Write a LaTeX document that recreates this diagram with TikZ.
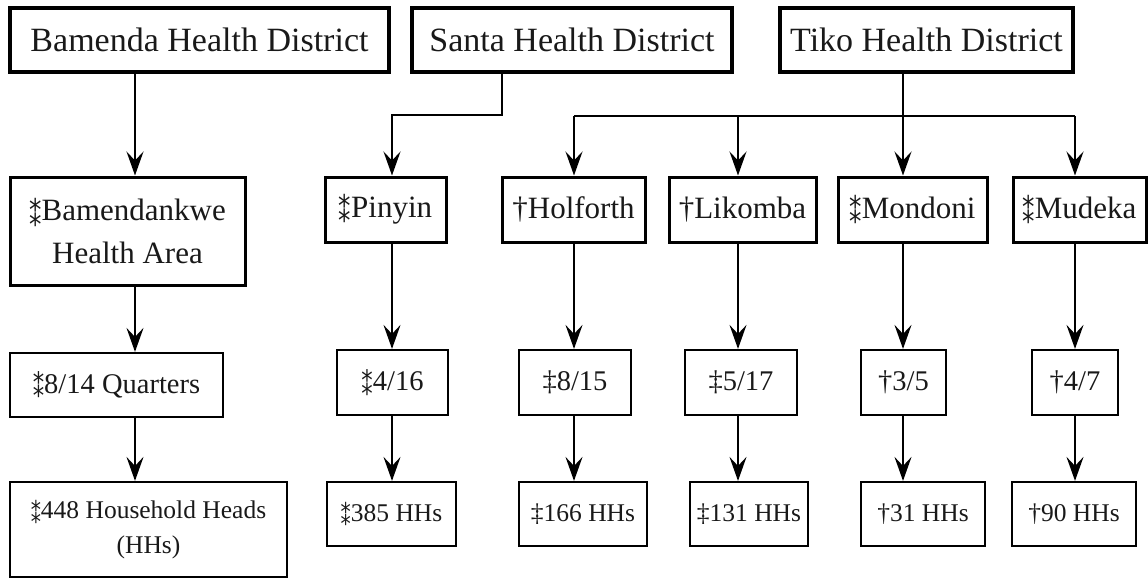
\documentclass[tikz,border=0pt]{standalone}
\usepackage{fontspec}
\setmainfont{Liberation Serif}
\newfontfamily\dvsans{DejaVu Sans}
\usetikzlibrary{arrows.meta}
\newcommand{\dast}{{\dvsans\raisebox{-0.17em}{\scalebox{0.8}[0.98]{⁑}}}}
\tikzset{
  box/.style={draw=black, rectangle, inner sep=0pt, align=center, text=black!90},
  topbox/.style={box, line width=3.4pt, font=\fontsize{34}{44}\selectfont},
  midbox/.style={box, line width=3pt, font=\fontsize{31}{43}\selectfont},
  lowbox/.style={box, line width=2.2pt, font=\fontsize{28.5}{38}\selectfont},
  botbox/.style={box, line width=2.2pt, font=\fontsize{25.5}{35}\selectfont},
  conn/.style={line width=1.8pt, draw=black},
  arr/.style={conn, -{Stealth[length=24pt,width=17pt,inset=9pt]}}
}
\begin{document}
\begin{tikzpicture}[x=1pt,y=-1pt]
\useasboundingbox (0,0) rectangle (1148,579);
% top row
\node[topbox, minimum width=379pt, minimum height=64pt] (bam) at (199.5,40) {Bamenda Health District};
\node[topbox, minimum width=320pt, minimum height=64pt] (santa) at (572,40) {Santa Health District};
\node[topbox, minimum width=293pt, minimum height=64pt] (tiko) at (926.5,40) {Tiko Health District};
% second row
\node[midbox, minimum width=235pt, minimum height=108pt] (bk) at (127.5,231) {\dast Bamendankwe\\Health Area};
\node[midbox, minimum width=121pt, minimum height=65pt] (pin) at (385.5,209.5) {\dast Pinyin};
\node[midbox, minimum width=143pt, minimum height=65pt] (hol) at (573.5,209.5) {†Holforth};
\node[midbox, minimum width=147pt, minimum height=65pt] (lik) at (742.5,209.5) {†Likomba};
\node[midbox, minimum width=149pt, minimum height=65pt] (mon) at (912.5,209.5) {\dast Mondoni};
\node[midbox, minimum width=133pt, minimum height=65pt] (mud) at (1079.5,209.5) {\dast Mudeka};
% third row
\node[lowbox, minimum width=213pt, minimum height=64pt] (bq) at (116.5,385) {\dast 8/14 Quarters};
\node[lowbox, minimum width=111pt, minimum height=65pt] (p3) at (392.5,382.5) {\dast 4/16};
\node[lowbox, minimum width=112pt, minimum height=65pt] (h3) at (575,382.5) {‡8/15};
\node[lowbox, minimum width=112pt, minimum height=65pt] (l3) at (741,382.5) {‡5/17};
\node[lowbox, minimum width=85pt, minimum height=65pt] (m3) at (903.5,382.5) {†3/5};
\node[lowbox, minimum width=86pt, minimum height=65pt] (d3) at (1075,382.5) {†4/7};
% fourth row
\node[botbox, minimum width=277pt, minimum height=95pt] (bh) at (148.5,529.5) {\dast 448 Household Heads\\(HHs)};
\node[botbox, minimum width=129pt, minimum height=64pt] (p4) at (391.5,514) {\dast 385 HHs};
\node[botbox, minimum width=128pt, minimum height=64pt] (h4) at (583,514) {‡166 HHs};
\node[botbox, minimum width=118pt, minimum height=64pt] (l4) at (749,514) {‡131 HHs};
\node[botbox, minimum width=124pt, minimum height=64pt] (m4) at (923,514) {†31 HHs};
\node[botbox, minimum width=124pt, minimum height=64pt] (d4) at (1074,514) {†90 HHs};
% column coordinates
\coordinate (c1) at (135,0);
\coordinate (c2) at (392,0);
\coordinate (c3) at (574,0);
\coordinate (c4) at (738,0);
\coordinate (c5) at (903,0);
\coordinate (c6) at (1075,0);
\coordinate (s) at (502,115);
\coordinate (t3) at (574,116);
\coordinate (t4) at (738,116);
\coordinate (t5) at (903,116);
\coordinate (t6) at (1075,116);
% Bamenda
\draw[arr] (bam.south -| c1) -- (bk.north -| c1);
\draw[arr] (bk.south -| c1) -- (bq.north -| c1);
\draw[arr] (bq.south -| c1) -- (bh.north -| c1);
% Santa
\draw[arr] (santa.south -| s) -- (s) -| (pin.north -| c2);
\draw[arr] (pin.south -| c2) -- (p3.north -| c2);
\draw[arr] (p3.south -| c2) -- (p4.north -| c2);
% Tiko
\draw[conn] (tiko.south -| t5) -- (t5);
\draw[conn] (t3) -- (t6);
\draw[arr] (t3) -- (hol.north -| t3);
\draw[arr] (t4) -- (lik.north -| t4);
\draw[arr] (t5) -- (mon.north -| t5);
\draw[arr] (t6) -- (mud.north -| t6);
\draw[arr] (hol.south -| c3) -- (h3.north -| c3);
\draw[arr] (h3.south -| c3) -- (h4.north -| c3);
\draw[arr] (lik.south -| c4) -- (l3.north -| c4);
\draw[arr] (l3.south -| c4) -- (l4.north -| c4);
\draw[arr] (mon.south -| c5) -- (m3.north -| c5);
\draw[arr] (m3.south -| c5) -- (m4.north -| c5);
\draw[arr] (mud.south -| c6) -- (d3.north -| c6);
\draw[arr] (d3.south -| c6) -- (d4.north -| c6);
\end{tikzpicture}
\end{document}
